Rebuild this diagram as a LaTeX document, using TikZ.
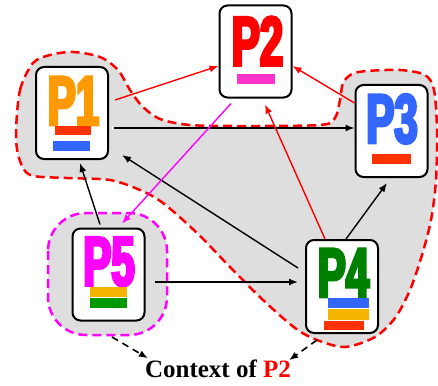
\documentclass[tikz,border=0pt]{standalone}
\usepackage{fontspec}
\setmainfont{Liberation Serif}
\newfontfamily\procfont[FakeStretch=0.6, FakeBold=4]{Liberation Sans}
\usetikzlibrary{arrows.meta,calc}

\definecolor{porange}{HTML}{FF9900}
\definecolor{pred}{HTML}{FF0000}
\definecolor{pblue}{HTML}{3366FF}
\definecolor{pgreen}{HTML}{008000}
\definecolor{pmagenta}{HTML}{FF00FF}
\definecolor{barred}{HTML}{FF3300}
\definecolor{barpink}{HTML}{FF33CC}
\definecolor{baryellow}{HTML}{F5B400}
\definecolor{bargreen}{HTML}{009900}
\definecolor{shade}{HTML}{DEDEDE}

\tikzset{
  procbox/.style={draw, line width=2pt, rounded corners=8pt, fill=white,
    minimum width=72pt, minimum height=92pt, inner sep=0pt},
  proclabel/.style={font=\procfont\bfseries\fontsize{70}{70}\selectfont,
    inner sep=0pt, anchor=base},
  dep/.style={line width=1.4pt, -{Latex[length=9pt,width=7pt]}},
  ctxline/.style={line width=1.6pt, dash pattern=on 7pt off 5pt,
    -{Latex[length=9pt,width=7pt]}},
  region/.style={line width=2.5pt, dash pattern=on 9pt off 5pt, fill=shade}
}

\begin{document}
\begin{tikzpicture}[x=1pt, y=-1pt]
    \useasboundingbox (0,0) rectangle (438,385);

    % 1. Vung ngu canh cua P2 (net dut do)
    \draw[region, draw=pred] plot[smooth cycle] coordinates {
        (16,133) (20,90) (33,63) (50,55) (73,52) (100,57) (118,70) (130,90)
        (142,106) (160,119) (190,125) (240,126) (320,125) (335,118) (340,100)
        (343,83) (352,74) (367,71) (400,70) (425,75) (434,90) (437,130)
        (436,180) (431,220) (422,255) (410,290) (395,318) (375,337) (345,347)
        (317,340) (295,328) (263,300) (230,267) (197,233) (163,203) (140,190)
        (110,180) (67,178) (30,175) (19,158)};

    % 2. Vung quanh P5 (net dut tim)
    \draw[region, draw=pmagenta, rounded corners=38pt] (48,213) rectangle (167,335);

    % 3. Cac tien trinh
    \node[procbox] (p1) at (72,113) {};
    \node[procbox] (p2) at (255.5,51.5) {};
    \node[procbox] (p3) at (391.5,131) {};
    \node[procbox, minimum height=93pt] (p4) at (342,286.5) {};
    \node[procbox] (p5) at (108.5,274.5) {};

    \node[proclabel, porange] (l1) at ($(p1.north)+(1.5,59)$) {P1};
    \node[proclabel, pred] (l2) at ($(p2.north)+(2,61)$) {P2};
    \node[proclabel, pblue] (l3) at ($(p3.north)+(0.5,59)$) {P3};
    \node[proclabel, pgreen] (l4) at ($(p4.north)+(1.5,58)$) {P4};
    \node[proclabel, pmagenta] (l5) at ($(p5.north)+(0.5,58)$) {P5};

    % 4. Cac thanh mau
    \fill[barred] (55,126) rectangle (91,135);
    \fill[pblue] (53,141) rectangle (90,151);
    \fill[barpink] (237,74) rectangle (275,84);
    \fill[barred] (372,154) rectangle (411,164);
    \fill[baryellow] (90,287) rectangle (127,297);
    \fill[bargreen] (90,298) rectangle (127,308);
    \fill[pblue] (328,298) rectangle (369,308);
    \fill[baryellow] (328,309) rectangle (369,320);
    \fill[barred] (324,321) rectangle (364,330);

    % 5. Cac mui ten phu thuoc
    \draw[dep, pred] ($(p1.east)+(6,-13)$) -- ($(p2.west)+(0,14.5)$);
    \draw[dep] ($(p1.east)+(5,15)$) -- ($(p3.west)+(0,-3)$);
    \draw[dep, pred] ($(p3.west)+(0,-28)$) -- ($(p2.east)+(0,14.5)$);
    \draw[dep, pred] ($(p4.north)+(-17,0)$) -- ($(p2.south)+(9.5,6)$);
    \draw[dep] ($(p4.north)+(4,0)$) -- ($(p3.south)+(-4.5,5)$);
    \draw[dep] ($(p4.west)+(-7,-18.5)$) -- ($(p1.south east)+(13,-5)$);
    \draw[dep, pmagenta] ($(p2.south)+(-24.5,5)$) -- ($(p5.north)+(13.5,-4)$);
    \draw[dep] ($(p5.north)+(-8.5,-3)$) -- ($(p1.south)+(8,3)$);
    \draw[dep] ($(p5.east)+(9,7.5)$) -- ($(p4.west)+(-7,-4.5)$);

    % 6. Nhan ngu canh
    \node[anchor=base, inner sep=0pt, font=\bfseries\fontsize{25}{25}\selectfont]
        (ctx) at (218,377) {Context of \textcolor{pred}{P2}};
    \coordinate (c5) at (112,337);
    \coordinate (c4) at (317,340);
    \draw[ctxline] (c5) -- ($(ctx.north west)+(3,-1)$);
    \draw[ctxline] (c4) -- ($(ctx.north east)+(-2,1)$);
\end{tikzpicture}
\end{document}
